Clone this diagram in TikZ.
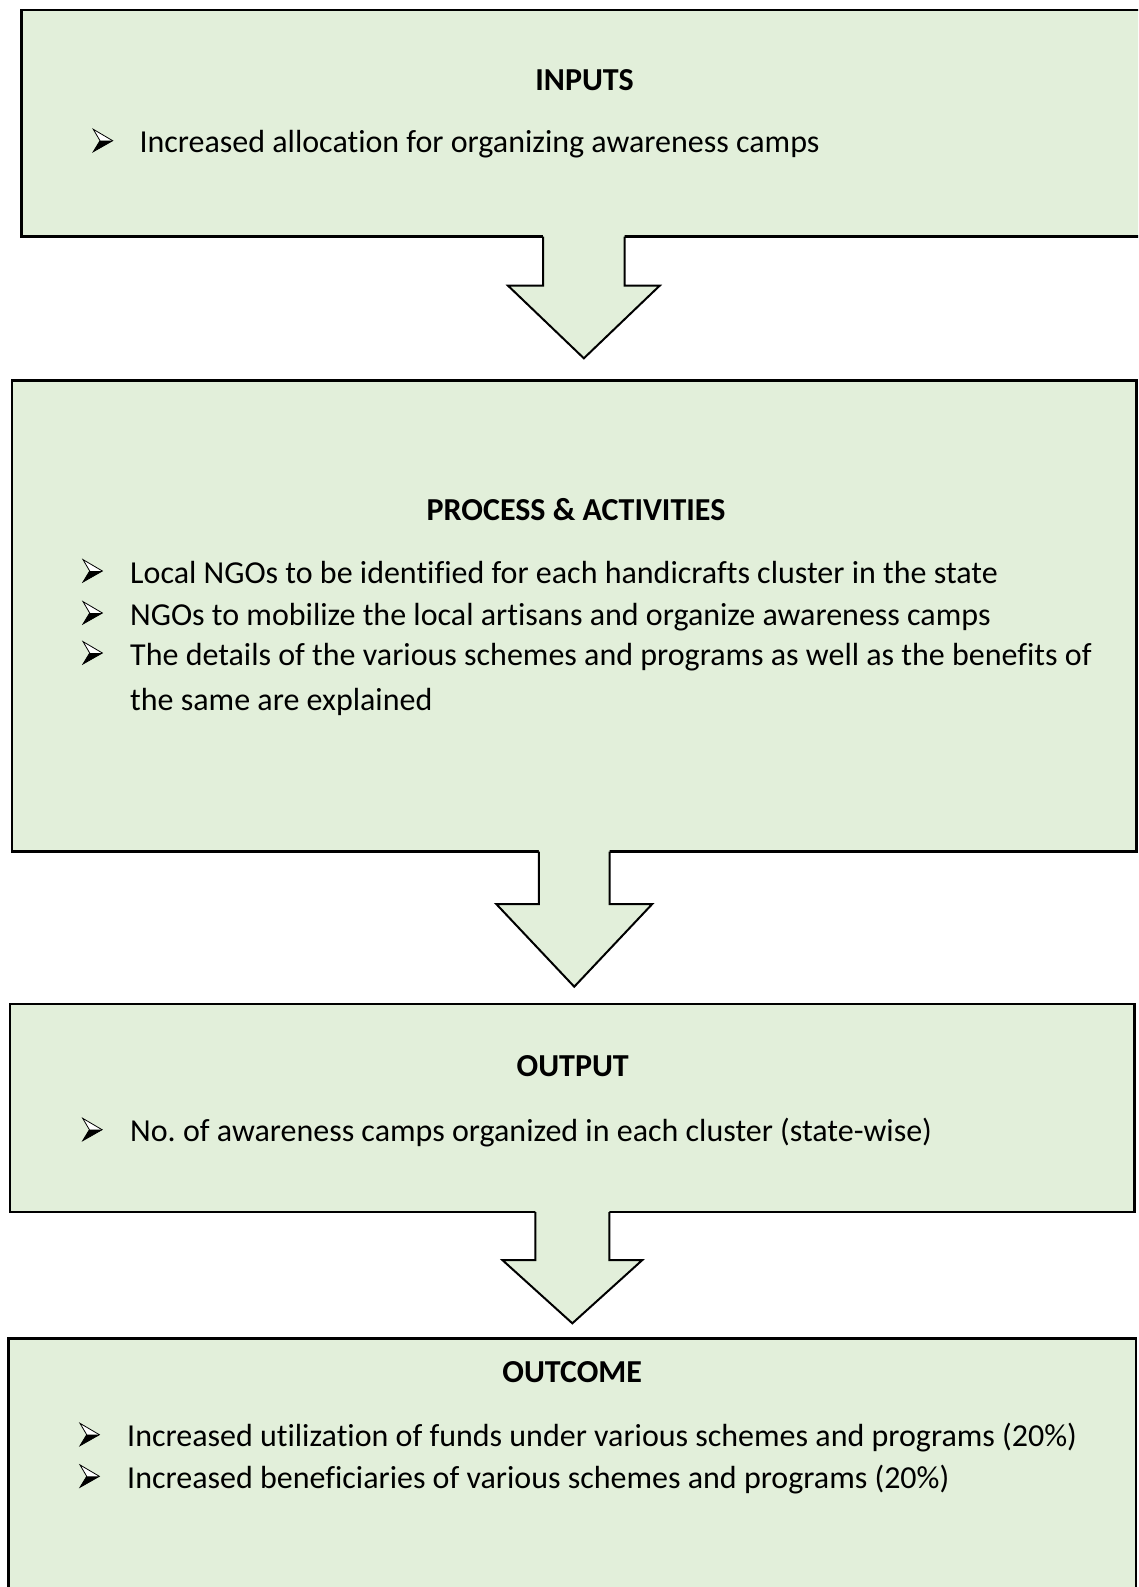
\documentclass[tikz,border=0pt]{standalone}
\usepackage{fontspec}
\setmainfont{Carlito}[Ligatures=NoCommon]
\definecolor{boxfill}{RGB}{226,239,218}
\tikzset{
  stage/.style={rectangle, draw=black, line width=2.6pt, fill=boxfill,
                inner sep=0pt, outer sep=0pt},
  heading/.style={anchor=base, inner sep=0pt,
                  font=\fontsize{32}{38}\selectfont\bfseries},
  item/.style={anchor=base west, inner sep=0pt,
               font=\fontsize{32}{38}\selectfont},
  flowline/.style={draw=black, line width=2pt, line join=miter},
  % arrowhead list marker, placed at the baseline of its line
  arrowbullet/.pic={
    \fill[white] (0,-23.4) -- (19.4,-12) -- (6.7,-12) -- cycle;
    \fill[black] (6.7,-12) -- (19.4,-12) -- (0,-1) -- cycle;
    \draw[black, line width=0.8pt, line join=miter]
      (6.7,-12) -- (0,-23.4) -- (19.4,-12) -- (0,-1) -- cycle;
  },
}
% block arrow hanging under a box: shaft half width, shaft length,
% head half width, depth of the tip
\newcommand\flowarrow[5]{%
  \begin{scope}[shift={(#1.south)}]
    \fill[boxfill] (-#2,-3) -- (-#2,#3) -- (-#4,#3) -- (0,#5) -- (#4,#3)
      -- (#2,#3) -- (#2,-3) -- cycle;
    \draw[flowline] (-#2,0) -- (-#2,#3) -- (-#4,#3) -- (0,#5) -- (#4,#3)
      -- (#2,#3) -- (#2,0);
  \end{scope}}
\frenchspacing
\begin{document}
\begin{tikzpicture}[x=1pt, y=-1pt]
  \useasboundingbox (0,0) rectangle (1138,1587);
  \fill[white] (0,0) rectangle (1138,1587);
  \clip (0,0) rectangle (1138,1587);

  % stages
  \node[stage, minimum width=1124.3pt, minimum height=226.7pt] (inputs)  at (583.85,123.35) {};
  \node[stage, minimum width=1124.5pt, minimum height=471pt]   (process) at (574.25,616.2) {};
  \node[stage, minimum width=1124.7pt, minimum height=208pt]   (output)  at (572.35,1108) {};
  \node[stage, minimum width=1127.7pt, minimum height=282pt]   (outcome) at (572.15,1479.3) {};

  % arrows between the stages
  \flowarrow{inputs}{40.7}{49}{75.8}{121.6}
  \flowarrow{process}{35.3}{52.3}{78}{135}
  \flowarrow{output}{37}{48}{70}{111.3}

  % INPUTS
  \node[heading] (inputsT) at (584.6,90) {INPUTS};
  \pic (inB1) at (93.3,152.7) {arrowbullet};
  \node[item] (in1)  at (139.3,152.7) {Increased allocation for organizing awareness camps};

  % PROCESS & ACTIVITIES
  \node[heading] (procT) at (576,520) {PROCESS \& ACTIVITIES};
  \pic (prB1) at (83,583) {arrowbullet};
  \node[item] (pr1)  at (130,583) {Local NGOs to be identified for each handicrafts cluster in the state};
  \pic (prB2) at (83,625) {arrowbullet};
  \node[item] (pr2)  at (130,625) {NGOs to mobilize the local artisans and organize awareness camps};
  \pic (prB3) at (83,665) {arrowbullet};
  \node[item] (pr3)  at (130,665) {The details of the various schemes and programs as well as the benefits of};
  \node[item] (pr3b) at (130,710) {the same are explained};

  % OUTPUT
  \node[heading] (outT) at (572.7,1076.7) {OUTPUT};
  \pic (otB1) at (82.7,1141.7) {arrowbullet};
  \node[item] (ot1)  at (130,1141.7) {No. of awareness camps organized in each cluster (state-wise)};

  % OUTCOME
  \node[heading] (ocT) at (572.2,1382.7) {OUTCOME};
  \pic (ocB1) at (80,1446.7) {arrowbullet};
  \node[item] (oc1)  at (127,1446.7) {Increased utilization of funds under various schemes and programs (20\%)};
  \pic (ocB2) at (80,1488.3) {arrowbullet};
  \node[item] (oc2)  at (127,1488.3) {Increased beneficiaries of various schemes and programs (20\%)};
\end{tikzpicture}
\end{document}
